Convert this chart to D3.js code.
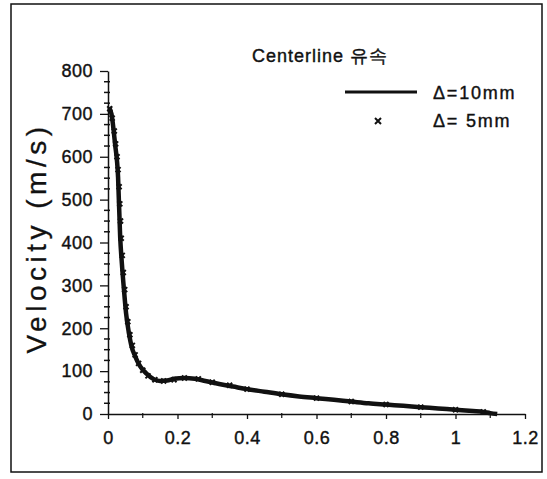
<!DOCTYPE html>
<html>
<head>
<meta charset="utf-8">
<script src="https://cdn.jsdelivr.net/npm/d3@7/dist/d3.min.js"></script>
<style>
  body { margin: 0; background: #fff; }
  svg text { font-family: "Liberation Sans", Arial, sans-serif; fill: #111; stroke: #111; stroke-width: 0.4px; }
</style>
</head>
<body>
<div id="chart"></div>
<script>
// centerline velocity, delta = 10mm (solid line)
var x10 = [0.003, 0.01, 0.02, 0.029, 0.035, 0.04, 0.046, 0.052, 0.06, 0.068, 0.078, 0.087, 0.098, 0.11, 0.13, 0.15, 0.17, 0.19, 0.22, 0.25, 0.28, 0.32, 0.36, 0.4, 0.45, 0.5, 0.55, 0.6, 0.65, 0.7, 0.75, 0.8, 0.85, 0.9, 0.95, 1.0, 1.05, 1.08, 1.1, 1.12];
var v10 = [715, 700, 632, 552, 413, 350, 289, 235, 190, 157, 135, 119, 105, 95, 82, 77, 78, 82, 84, 82, 77, 70, 64, 58, 52, 46, 41, 37, 33, 29, 25, 22, 19, 16, 13, 10, 7, 5, 2, 0];

// delta = 5mm (x markers)
var x5 = [0.005, 0.012, 0.018, 0.022, 0.026, 0.029, 0.032, 0.034, 0.036, 0.038, 0.041, 0.044, 0.048, 0.052, 0.057, 0.063, 0.07, 0.078, 0.088, 0.1, 0.115, 0.135, 0.16, 0.19, 0.22, 0.26, 0.3, 0.35, 0.4, 0.5, 0.6, 0.7, 0.8, 0.9, 1.0, 1.08];
var v5 = [712, 690, 660, 630, 600, 570, 530, 490, 450, 410, 370, 330, 290, 250, 215, 185, 160, 138, 118, 102, 89, 80, 77, 80, 84, 82, 74, 67, 58, 46, 37, 29, 22, 16, 10, 5];

var xTicks = [0, 0.2, 0.4, 0.6, 0.8, 1, 1.2];
var yTicks = [0, 100, 200, 300, 400, 500, 600, 700, 800];
var xMinor = [0.1, 0.3, 0.5, 0.7, 0.9, 1.1];
var yMinor = d3.range(25, 800, 25).filter(function(d){ return d % 100 != 0; });

var seriesNames = ["\u0394=10mm", "\u0394= 5mm"];
var title = "Centerline \uc720\uc18d";
var yTitle = "Velocity (m/s)";

var W = 547, H = 479;
var svg = d3.select("#chart").append("svg")
  .attr("width", W)
  .attr("height", H);

// outer frame
svg.append("rect")
  .attr("x", 11).attr("y", 4)
  .attr("width", 531).attr("height", 468)
  .attr("fill", "none")
  .attr("stroke", "#111")
  .attr("stroke-width", 1.5);

var x = d3.scaleLinear().domain([0, 1.2]).range([108, 525]);
var y = d3.scaleLinear().domain([0, 800]).range([414, 71]);

// minor ticks
svg.append("g").selectAll("line")
  .data(yMinor).enter().append("line")
  .attr("x1", x(0) - 4).attr("x2", x(0) + 2)
  .attr("y1", function(d){ return y(d); })
  .attr("y2", function(d){ return y(d); })
  .attr("stroke", "#111").attr("stroke-width", 1.5);

svg.append("g").selectAll("line")
  .data(xMinor).enter().append("line")
  .attr("x1", function(d){ return x(d); })
  .attr("x2", function(d){ return x(d); })
  .attr("y1", y(0) - 1).attr("y2", y(0) + 4)
  .attr("stroke", "#111").attr("stroke-width", 1.2);

var xAxis = svg.append("g")
  .attr("transform", "translate(0," + y(0) + ")")
  .call(d3.axisBottom(x).tickValues(xTicks).tickSize(5).tickSizeOuter(0).tickPadding(12)
    .tickFormat(function(d){ return String(d); }));

var yAxis = svg.append("g")
  .attr("transform", "translate(" + x(0) + ",0)")
  .call(d3.axisLeft(y).tickValues(yTicks).tickSize(8).tickSizeOuter(0).tickPadding(7));

[xAxis, yAxis].forEach(function(a){
  a.select(".domain").attr("stroke", "#111").attr("stroke-width", 1.5);
  a.selectAll(".tick line").attr("stroke", "#111").attr("stroke-width", 1.3);
  a.selectAll(".tick text")
    .attr("fill", "#111")
    .style("font-size", "18px")
    .style("letter-spacing", "0.5px")
    .style("font-family", "'Liberation Sans', Arial, sans-serif");
});

// y axis title
svg.append("text")
  .attr("transform", "translate(46,238) rotate(-90)")
  .attr("text-anchor", "middle")
  .style("font-size", "28px")
  .style("letter-spacing", "4.5px")
  .style("stroke-width", "0.3px")
  .text(yTitle);

// title
svg.append("text")
  .attr("x", 252).attr("y", 62)
  .style("font-size", "18px")
  .style("letter-spacing", "1px")
  .text(title);

var line = d3.line()
  .x(function(d){ return x(d[0]); })
  .y(function(d){ return y(d[1]); })
  .curve(d3.curveMonotoneX);

svg.append("path")
  .datum(d3.zip(x10, v10))
  .attr("d", line)
  .attr("fill", "none")
  .attr("stroke", "#111")
  .attr("stroke-width", 4.5)
  .attr("stroke-linejoin", "round");

function cross(g, s){
  g.append("path")
    .attr("d", "M" + (-s) + "," + (-s) + "L" + s + "," + s + "M" + (-s) + "," + s + "L" + s + "," + (-s))
    .attr("stroke", "#111")
    .attr("stroke-width", 2);
}

svg.append("g").selectAll("g")
  .data(d3.zip(x5, v5)).enter().append("g")
  .attr("transform", function(d){ return "translate(" + x(d[0]) + "," + y(d[1]) + ")"; })
  .each(function(){ cross(d3.select(this), 2.5); });

// legend
svg.append("line")
  .attr("x1", 345).attr("x2", 417)
  .attr("y1", 92).attr("y2", 92)
  .attr("stroke", "#111").attr("stroke-width", 3);
svg.append("text").attr("x", 433).attr("y", 99)
  .style("font-size", "18px").style("letter-spacing", "1.8px")
  .text(seriesNames[0]);
cross(svg.append("g").attr("transform", "translate(378,121)"), 3);
svg.append("text").attr("x", 433).attr("y", 127)
  .style("font-size", "18px").style("letter-spacing", "1.8px")
  .text(seriesNames[1]);
</script>
</body>
</html>
